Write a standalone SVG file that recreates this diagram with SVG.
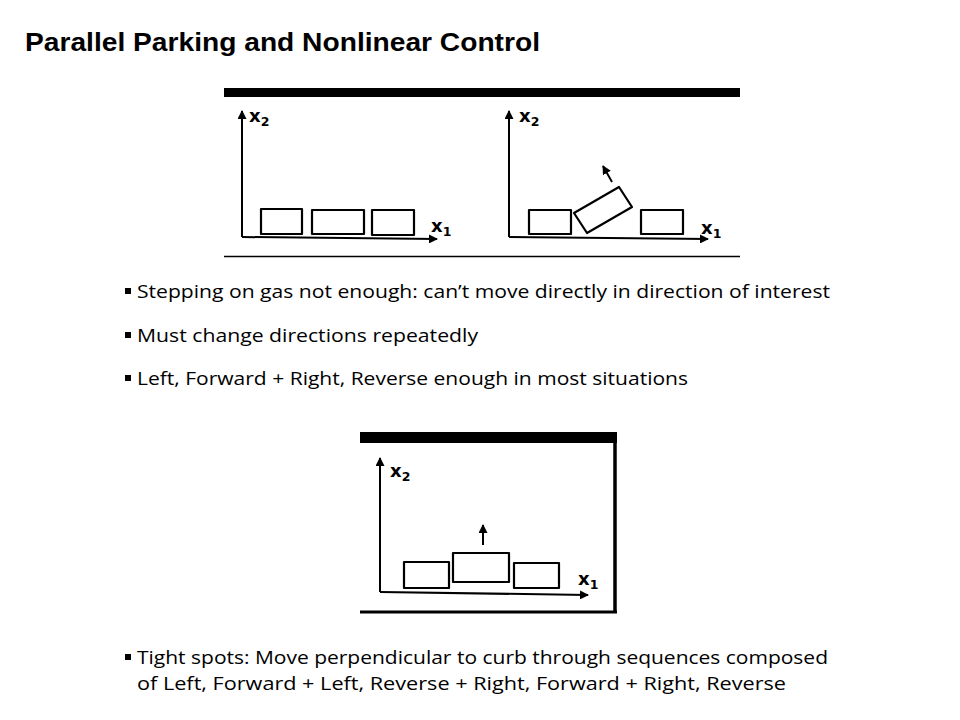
<svg xmlns="http://www.w3.org/2000/svg" width="960" height="720" viewBox="0 0 960 720">
<style>
.title{font-family:"Liberation Sans","Open Sans",sans-serif;font-weight:bold;font-size:26px;fill:#000}
.body{font-family:"Open Sans","Liberation Sans",sans-serif;font-size:18.5px;fill:#000}
.ax{fill:none;stroke:#000;stroke-width:2}
.car{fill:none;stroke:#000;stroke-width:2.2;stroke-linejoin:round}
.lbl{font-family:"DejaVu Sans","Liberation Sans",sans-serif;font-size:18px;font-weight:bold;fill:#000}
.sub{font-family:"DejaVu Sans","Liberation Sans",sans-serif;font-size:12.5px;font-weight:bold;fill:#000}
</style>
<defs>
<marker id="ah" markerWidth="9" markerHeight="9" refX="8" refY="4.5" orient="auto" markerUnits="userSpaceOnUse"><path d="M0,0 L9,4.5 L0,9 Z" fill="#000"/></marker>
</defs>
<rect width="960" height="720" fill="#fff"/>
<text id="title" class="title" x="25" y="51" textLength="515" lengthAdjust="spacingAndGlyphs">Parallel Parking and Nonlinear Control</text>

<g id="figure1">
<rect x="224" y="88" width="516" height="9" fill="#000"/>
<line x1="224" y1="256.5" x2="740" y2="256.5" stroke="#000" stroke-width="1.5"/>
<g id="panel-left">
<path class="ax" d="M242,237 L242,111" marker-end="url(#ah)"/>
<path class="ax" d="M242,237 L437,239" marker-end="url(#ah)"/>
<text class="lbl" x="249" y="122">x<tspan class="sub" dy="4">2</tspan></text>
<text class="lbl" x="431" y="232">x<tspan class="sub" dy="4">1</tspan></text>
<rect class="car" x="261" y="209" width="41" height="25"/>
<rect class="car" x="312" y="210" width="52" height="24"/>
<rect class="car" x="372" y="210" width="42" height="25"/>
</g>
<g id="panel-right">
<path class="ax" d="M509,237 L509,111" marker-end="url(#ah)"/>
<path class="ax" d="M509,237 L708,239" marker-end="url(#ah)"/>
<text class="lbl" x="519" y="122">x<tspan class="sub" dy="4">2</tspan></text>
<text class="lbl" x="701" y="234">x<tspan class="sub" dy="4">1</tspan></text>
<rect class="car" x="529" y="210" width="42" height="24"/>
<path class="car" d="M574,213 L619,187 L632,207 L587,233 Z"/>
<path class="ax" d="M612,182 L603,166" marker-end="url(#ah)"/>
<rect class="car" x="641" y="210" width="42" height="24"/>
</g>
</g>

<g id="bullets1">
<rect x="125" y="288" width="6" height="6" fill="#000"/>
<text class="body" x="137" y="298" textLength="693" lengthAdjust="spacingAndGlyphs">Stepping on gas not enough: can’t move directly in direction of interest</text>
<rect x="125" y="332" width="6" height="6" fill="#000"/>
<text class="body" x="137" y="342" textLength="341" lengthAdjust="spacingAndGlyphs">Must change directions repeatedly</text>
<rect x="125" y="375" width="6" height="6" fill="#000"/>
<text class="body" x="137" y="385" textLength="551" lengthAdjust="spacingAndGlyphs">Left, Forward + Right, Reverse enough in most situations</text>
</g>

<g id="figure2">
<rect x="360" y="432" width="257" height="11" fill="#000"/>
<line x1="615" y1="432" x2="615" y2="613" stroke="#000" stroke-width="3.5"/>
<line x1="360" y1="612" x2="617" y2="612" stroke="#000" stroke-width="3"/>
<path class="ax" d="M380,592 L380,458" marker-end="url(#ah)"/>
<path class="ax" d="M380,592 L588,595" marker-end="url(#ah)"/>
<text class="lbl" x="390" y="477">x<tspan class="sub" dy="4">2</tspan></text>
<text class="lbl" x="578" y="585">x<tspan class="sub" dy="4">1</tspan></text>
<rect class="car" x="404" y="562" width="45" height="26"/>
<rect class="car" x="453" y="553" width="56" height="29"/>
<rect class="car" x="514" y="563" width="45" height="25"/>
<path class="ax" d="M483,545 L483,525" marker-end="url(#ah)"/>
</g>

<g id="bullets2">
<rect x="125" y="654" width="6" height="6" fill="#000"/>
<text class="body" x="137" y="664" textLength="691" lengthAdjust="spacingAndGlyphs">Tight spots: Move perpendicular to curb through sequences composed</text>
<text class="body" x="137" y="690" textLength="649" lengthAdjust="spacingAndGlyphs">of Left, Forward + Left, Reverse + Right, Forward + Right, Reverse</text>
</g>
</svg>
